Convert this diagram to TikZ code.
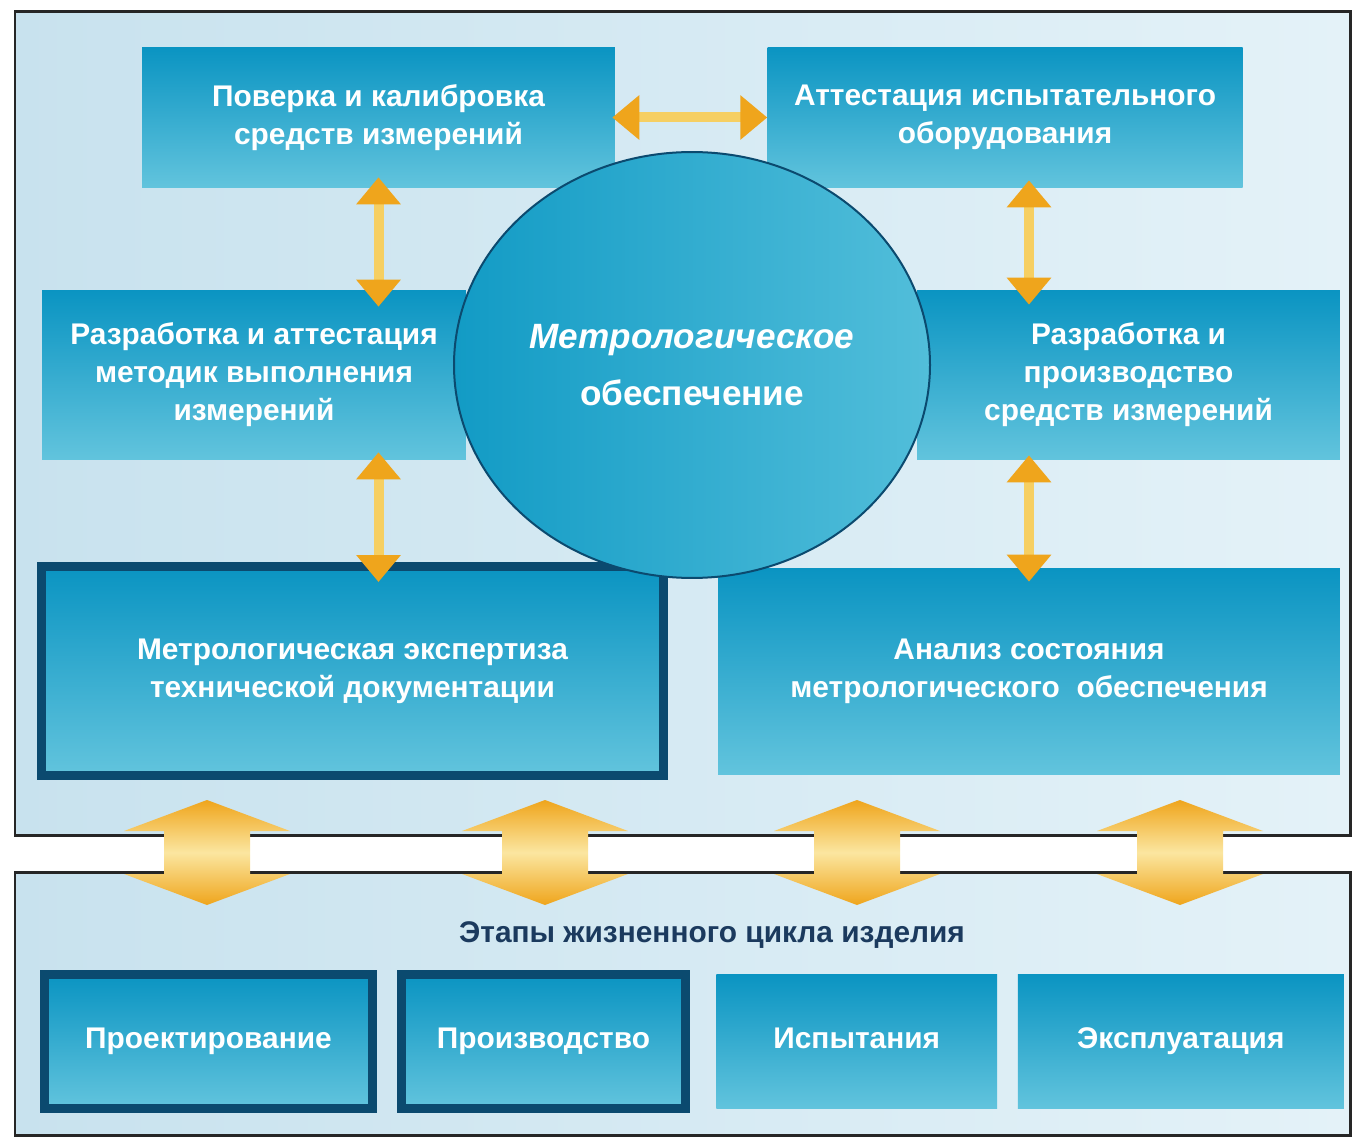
\documentclass[tikz,border=0pt]{standalone}
\usepackage{fontspec}
\setmainfont{Liberation Sans}
\usepackage{xcolor}
\usetikzlibrary{shapes.geometric, arrows.meta, positioning}

\definecolor{bgleft}{HTML}{C8E2EE}
\definecolor{bgright}{HTML}{E4F2F8}
\definecolor{boxtop}{HTML}{0A94C2}
\definecolor{boxbot}{HTML}{62C4DD}
\definecolor{boxedge}{HTML}{0B4A6F}
\definecolor{hubleft}{HTML}{129BC5}
\definecolor{hubright}{HTML}{52BEDA}
\definecolor{arrowor}{HTML}{EFA51C}
\definecolor{arrowlt}{HTML}{F6CF62}
\definecolor{arrowpale}{HTML}{FBE6A0}
\definecolor{titleblue}{HTML}{1B3A5E}

\begin{document}
\begin{tikzpicture}[x=0.02cm, y=-0.02cm,
    task/.style={rectangle, top color=boxtop, bottom color=boxbot,
      text=white, font=\bfseries\fontsize{17}{21.6}\selectfont,
      align=center, inner sep=0pt},
    keytask/.style={task, draw=boxedge, line width=0.18cm},
    stage/.style={text height=12pt, text depth=4pt},
    hub/.style={ellipse, left color=hubleft, right color=hubright,
      draw=boxedge, line width=0.04cm, text=white, align=center,
      minimum width=9.0cm, minimum height=8.52cm,
      font=\bfseries\fontsize{20}{32}\selectfont},
    dblarrow/.style={draw=arrowlt, line width=0.2cm,
      {Triangle[width=0.86cm, length=0.54cm, color=arrowor]}-%
      {Triangle[width=0.86cm, length=0.54cm, color=arrowor]}},
    bigarrow/.style={top color=arrowor, bottom color=arrowor,
      middle color=arrowpale},
    frame/.style={draw=black!85, line width=0.06cm},
]
\useasboundingbox (0,0) rectangle (1353,1138);

% ── Panels ──
\shade[left color=bgleft, right color=bgright] (15,12) rectangle (1350,835);
\draw[frame] (15,12) rectangle (1350,835);
\shade[left color=bgleft, right color=bgright] (15,872) rectangle (1350,1135);
\draw[frame] (15,872) rectangle (1350,1135);

% ── Links between the panels ──
\foreach \cx in {207,545,857,1180}
  \shade[bigarrow] (\cx,800) -- (\cx+83,831) -- (\cx+43,831) -- (\cx+43,874)
    -- (\cx+83,874) -- (\cx,905) -- (\cx-83,874) -- (\cx-43,874)
    -- (\cx-43,831) -- (\cx-83,831) -- cycle;

% ── Tasks ──
\node[task, minimum width=9.46cm, minimum height=2.82cm] (b1) at (378.5,117.5)
  {Поверка и калибровка\\средств измерений};
\node[task, minimum width=9.5cm, minimum height=2.82cm, right=3.04cm of b1] (b2)
  {Аттестация испытательного\\оборудования};
\node[task, minimum width=8.48cm, minimum height=3.4cm] (b3) at (254,375)
  {Разработка и аттестация\\методик выполнения\\измерений};
\node[task, minimum width=8.46cm, minimum height=3.4cm] (b4) at (1128.5,375)
  {Разработка и\\производство\\средств измерений};
\node[keytask, minimum width=12.44cm, minimum height=4.18cm] (b5) at (352.5,671)
  {Метрологическая экспертиза\\технической документации};
\node[task, minimum width=12.44cm, minimum height=4.14cm] (b6) at (1029,671.5)
  {Анализ состояния\\метрологического\ \ обеспечения};

\node[hub] (hub) at (692,365) {\textit{Метрологическое}\\обеспечение};

% ── Links between the tasks ──
\draw[dblarrow, shorten <=-0.06cm] (b1.east) -- (b2.west);
\draw[dblarrow, shorten <=-0.22cm, shorten >=-0.34cm]
  (b1.south) -- (b1.south |- b3.north);
\draw[dblarrow, shorten <=-0.16cm, shorten >=-0.4cm]
  (b1.south |- b3.south) -- (b1.south |- b5.north);
\draw[dblarrow, shorten <=-0.16cm, shorten >=-0.3cm]
  (b6.north |- b2.south) -- (b6.north |- b4.north);
\draw[dblarrow, shorten <=-0.1cm, shorten >=-0.28cm]
  (b6.north |- b4.south) -- (b6.north);

% ── Life cycle ──
\node[font=\bfseries\fontsize{17}{21.6}\selectfont, text=titleblue] (title)
  at (712,935) {Этапы жизненного цикла изделия};

\node[keytask, stage, minimum width=6.56cm, minimum height=2.68cm] (s1)
  at (208.5,1041.5) {Проектирование};
\node[keytask, stage, minimum width=5.68cm, minimum height=2.68cm,
  right=0.4cm of s1] (s2) {Производство};
\node[task, stage, minimum width=5.62cm, minimum height=2.7cm,
  right=0.52cm of s2] (s3) {Испытания};
\node[task, stage, minimum width=6.52cm, minimum height=2.7cm,
  right=0.4cm of s3] (s4) {Эксплуатация};

\end{tikzpicture}
\end{document}
